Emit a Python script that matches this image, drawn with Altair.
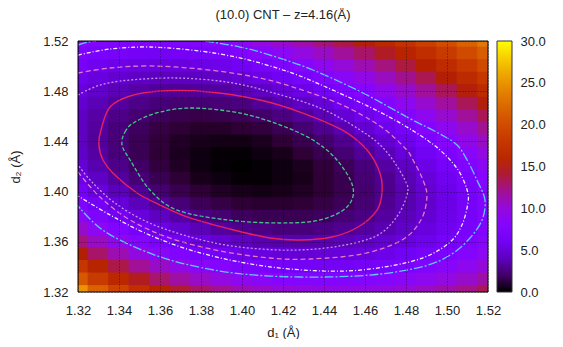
import math
import altair as alt
import pandas as pd

# ---------------- data ----------------
d1_values = [1.32, 1.33, 1.34, 1.35, 1.36, 1.37, 1.38, 1.39, 1.40, 1.41, 1.42,
             1.43, 1.44, 1.45, 1.46, 1.47, 1.48, 1.49, 1.50, 1.51, 1.52]
d2_values = [1.52, 1.51, 1.50, 1.49, 1.48, 1.47, 1.46, 1.45, 1.44, 1.43, 1.42,
             1.41, 1.40, 1.39, 1.38, 1.37, 1.36, 1.35, 1.34, 1.33, 1.32]

energy_rows = [
    [8.3, 7.9, 7.6, 7.5, 7.5, 7.7, 8.0, 8.4, 9.0, 9.8, 10.6, 11.5, 12.6, 13.7, 14.8, 16.1, 17.4, 18.8, 20.2, 21.7, 23.3],
    [7.3, 6.8, 6.5, 6.3, 6.2, 6.3, 6.6, 7.0, 7.5, 8.2, 9.0, 9.8, 10.8, 11.9, 13.0, 14.3, 15.6, 17.0, 18.4, 19.9, 21.4],
    [6.5, 5.9, 5.5, 5.2, 5.1, 5.1, 5.3, 5.6, 6.1, 6.7, 7.4, 8.2, 9.2, 10.2, 11.3, 12.5, 13.8, 15.2, 16.6, 18.1, 19.7],
    [5.7, 5.1, 4.6, 4.2, 4.0, 4.0, 4.1, 4.4, 4.8, 5.3, 6.0, 6.7, 7.6, 8.6, 9.7, 10.9, 12.2, 13.5, 14.9, 16.4, 18.0],
    [5.1, 4.4, 3.8, 3.4, 3.1, 3.0, 3.1, 3.2, 3.6, 4.1, 4.7, 5.4, 6.2, 7.2, 8.2, 9.4, 10.6, 11.9, 13.3, 14.8, 16.4],
    [4.6, 3.8, 3.2, 2.7, 2.4, 2.2, 2.2, 2.3, 2.5, 3.0, 3.5, 4.2, 4.9, 5.8, 6.9, 8.0, 9.2, 10.5, 11.8, 13.3, 14.8],
    [4.2, 3.4, 2.7, 2.2, 1.8, 1.5, 1.4, 1.5, 1.7, 2.0, 2.5, 3.1, 3.8, 4.7, 5.6, 6.7, 7.9, 9.1, 10.5, 11.9, 13.4],
    [4.1, 3.2, 2.4, 1.8, 1.3, 1.0, 0.8, 0.8, 1.0, 1.2, 1.6, 2.2, 2.9, 3.7, 4.6, 5.6, 6.7, 7.9, 9.2, 10.6, 12.1],
    [4.1, 3.1, 2.3, 1.6, 1.1, 0.7, 0.5, 0.4, 0.4, 0.6, 1.0, 1.5, 2.1, 2.8, 3.7, 4.6, 5.7, 6.9, 8.1, 9.5, 10.9],
    [4.3, 3.3, 2.4, 1.6, 1.0, 0.6, 0.3, 0.1, 0.1, 0.3, 0.5, 1.0, 1.5, 2.2, 3.0, 3.9, 4.9, 6.0, 7.2, 8.5, 9.8],
    [4.7, 3.6, 2.7, 1.9, 1.2, 0.7, 0.3, 0.1, 0.0, 0.1, 0.3, 0.6, 1.1, 1.7, 2.4, 3.3, 4.2, 5.3, 6.4, 7.6, 8.9],
    [5.4, 4.2, 3.2, 2.3, 1.6, 1.0, 0.5, 0.3, 0.1, 0.1, 0.3, 0.5, 1.0, 1.5, 2.2, 2.9, 3.8, 4.8, 5.8, 7.0, 8.2],
    [6.3, 5.0, 3.9, 3.0, 2.2, 1.5, 1.0, 0.7, 0.5, 0.4, 0.5, 0.7, 1.0, 1.5, 2.1, 2.8, 3.6, 4.5, 5.5, 6.6, 7.8],
    [7.4, 6.1, 4.9, 3.9, 3.0, 2.3, 1.7, 1.3, 1.0, 0.9, 0.9, 1.0, 1.3, 1.7, 2.2, 2.9, 3.6, 4.4, 5.4, 6.4, 7.5],
    [8.8, 7.4, 6.1, 5.0, 4.1, 3.3, 2.6, 2.2, 1.8, 1.6, 1.6, 1.6, 1.8, 2.2, 2.6, 3.2, 3.9, 4.6, 5.5, 6.4, 7.5],
    [10.5, 9.0, 7.6, 6.4, 5.4, 4.5, 3.8, 3.2, 2.8, 2.6, 2.4, 2.4, 2.6, 2.9, 3.2, 3.7, 4.3, 5.0, 5.8, 6.7, 7.7],
    [12.5, 10.8, 9.3, 8.0, 6.9, 6.0, 5.2, 4.6, 4.1, 3.7, 3.5, 3.5, 3.6, 3.8, 4.1, 4.5, 5.0, 5.7, 6.4, 7.2, 8.2],
    [14.9, 13.0, 11.3, 9.9, 8.7, 7.7, 6.8, 6.1, 5.5, 5.1, 4.9, 4.7, 4.8, 4.9, 5.1, 5.5, 6.0, 6.5, 7.2, 8.0, 9.0],
    [17.8, 15.5, 13.6, 12.0, 10.7, 9.6, 8.6, 7.9, 7.2, 6.8, 6.4, 6.2, 6.2, 6.2, 6.4, 6.7, 7.1, 7.7, 8.4, 9.2, 10.1],
    [21.1, 18.4, 16.2, 14.4, 12.9, 11.7, 10.7, 9.8, 9.2, 8.6, 8.2, 8.0, 7.8, 7.8, 7.9, 8.2, 8.6, 9.1, 9.8, 10.6, 11.6],
    [25.0, 21.7, 19.2, 17.1, 15.4, 14.1, 13.0, 12.1, 11.3, 10.7, 10.2, 9.9, 9.7, 9.6, 9.7, 9.9, 10.3, 10.8, 11.5, 12.3, 13.4],
]

# contour lines (d1, d2)
green_d1 = [1.3415, 1.3429, 1.3478, 1.3600, 1.3761, 1.3990, 1.4185, 1.4346, 1.4463, 1.4541, 1.4512, 1.4380, 1.4185, 1.3927, 1.3683, 1.3551, 1.3454]
green_d2 = [1.4371, 1.4475, 1.4555, 1.4634, 1.4666, 1.4626, 1.4531, 1.4411, 1.4252, 1.4037, 1.3877, 1.3774, 1.3750, 1.3774, 1.3853, 1.4013, 1.4252]

red_d1 = [1.3302, 1.3312, 1.3356, 1.3454, 1.3600, 1.3844, 1.4088, 1.4283, 1.4488, 1.4610, 1.4673, 1.4683, 1.4659, 1.4566, 1.4439, 1.4283, 1.4137, 1.3941, 1.3746, 1.3600, 1.3488, 1.3380, 1.3322]
red_d2 = [1.4371, 1.4491, 1.4674, 1.4762, 1.4802, 1.4794, 1.4730, 1.4634, 1.4491, 1.4331, 1.4148, 1.3997, 1.3853, 1.3718, 1.3638, 1.3614, 1.3630, 1.3702, 1.3790, 1.3893, 1.3989, 1.4132, 1.4252]

lav_d1 = [1.3200, 1.3307, 1.3454, 1.3683, 1.3927, 1.4137, 1.4380, 1.4576, 1.4698, 1.4795, 1.4805, 1.4751, 1.4654, 1.4478, 1.4283, 1.4088, 1.3893, 1.3698, 1.3527, 1.3380, 1.3268, 1.3200]
lav_d2 = [1.4770, 1.4849, 1.4889, 1.4905, 1.4873, 1.4794, 1.4666, 1.4491, 1.4331, 1.4092, 1.3973, 1.3790, 1.3646, 1.3567, 1.3535, 1.3543, 1.3582, 1.3662, 1.3766, 1.3909, 1.4076, 1.4212]

pink_d1 = [1.3200, 1.3356, 1.3551, 1.3795, 1.4039, 1.4234, 1.4478, 1.4673, 1.4795, 1.4834, 1.4883, 1.4902, 1.4873, 1.4780, 1.4585, 1.4332, 1.4137, 1.3893, 1.3649, 1.3454, 1.3307, 1.3200]
pink_d2 = [1.4945, 1.4985, 1.5001, 1.4977, 1.4921, 1.4841, 1.4698, 1.4523, 1.4347, 1.4252, 1.4092, 1.3957, 1.3774, 1.3614, 1.3503, 1.3463, 1.3471, 1.3527, 1.3630, 1.3774, 1.3957, 1.4156]

white_d1 = [1.3200, 1.3356, 1.3551, 1.3795, 1.3990, 1.4137, 1.4283, 1.4463, 1.4673, 1.4844, 1.4966, 1.5054, 1.5098, 1.5102, 1.5073, 1.5015, 1.4893, 1.4722, 1.4502, 1.4234, 1.3990, 1.3746, 1.3527, 1.3356, 1.3200]
white_d2 = [1.5088, 1.5136, 1.5152, 1.5120, 1.5065, 1.5001, 1.4921, 1.4794, 1.4634, 1.4475, 1.4331, 1.4172, 1.4013, 1.3909, 1.3734, 1.3598, 1.3479, 1.3407, 1.3367, 1.3383, 1.3439, 1.3535, 1.3670, 1.3814, 1.3965]

cyan_a_d1 = [1.3200, 1.3249, 1.3288]
cyan_a_d2 = [1.5168, 1.5192, 1.5200]
cyan_b_d1 = [1.3820, 1.3990, 1.4137, 1.4346, 1.4590, 1.4805, 1.4966, 1.5049, 1.5098, 1.5146, 1.5185, 1.5171, 1.5112, 1.5024, 1.4893, 1.4673, 1.4429, 1.4137, 1.3893, 1.3649, 1.3454, 1.3307, 1.3200]
cyan_b_d2 = [1.5200, 1.5152, 1.5088, 1.4969, 1.4786, 1.4594, 1.4459, 1.4371, 1.4252, 1.4092, 1.3933, 1.3774, 1.3630, 1.3503, 1.3407, 1.3343, 1.3320, 1.3327, 1.3367, 1.3455, 1.3575, 1.3710, 1.3885]

tick_values = [1.32, 1.34, 1.36, 1.38, 1.40, 1.42, 1.44, 1.46, 1.48, 1.50, 1.52]
cbar_values = [0, 5, 10, 15, 20, 25, 30]

# ---------------- build tables ----------------
rows = []
for i, d2 in enumerate(d2_values):
    for j, d1 in enumerate(d1_values):
        rows.append({"d1": d1, "d2": d2, "e": energy_rows[i][j]})
heat_df = pd.DataFrame(rows)


def contour_df(segments):
    recs = []
    for s, (xs, ys) in enumerate(segments):
        for k, (a, b) in enumerate(zip(xs, ys)):
            recs.append({"d1": a, "d2": b, "seg": s, "ord": k})
    return pd.DataFrame(recs)


# gnuplot default pm3d palette (rgbformulae 7,5,15)
def pal(t):
    r = math.sqrt(t)
    g = t ** 3
    b = max(0.0, math.sin(2 * math.pi * t))
    return "#%02x%02x%02x" % (round(255 * r), round(255 * g), round(255 * b))


n_stops = 31
stop_dom = [30.0 * k / (n_stops - 1) for k in range(n_stops)]
stop_rng = [pal(k / (n_stops - 1)) for k in range(n_stops)]

FONT = "Liberation Sans"
W, H = 410, 251

xscale = alt.Scale(domain=[1.32, 1.52], nice=False, zero=False)
yscale = alt.Scale(domain=[1.32, 1.52], nice=False, zero=False)
cscale = alt.Scale(type="linear", domain=stop_dom, range=stop_rng, clamp=True, interpolate="rgb")

grid_kw = dict(grid=True, gridColor="#000000", gridDash=[1, 2], gridOpacity=0.55, gridWidth=1,
               ticks=False, domain=False, labelFont=FONT, titleFont=FONT, labelFontSize=13,
               titleFontSize=13, labelColor="#222222", titleColor="#222222",
               titleFontWeight="normal", format=".2f", values=tick_values, zindex=1,
               labelFlush=False, labelOverlap=False)

heat = alt.Chart(heat_df).transform_calculate(
    x0="datum.d1 - 0.0053", x1="datum.d1 + 0.0053",
    y0="datum.d2 - 0.0055", y1="datum.d2 + 0.0055",
).mark_rect(clip=True).encode(
    x=alt.X("x0:Q", scale=xscale,
            axis=alt.Axis(title="d\u2081 (\u00c5)", labelPadding=12, titlePadding=9, **grid_kw)),
    x2="x1:Q",
    y=alt.Y("y0:Q", scale=yscale,
            axis=alt.Axis(title="d\u2082 (\u00c5)", labelPadding=10, titlePadding=20, **grid_kw)),
    y2="y1:Q",
    color=alt.Color("e:Q", scale=cscale, legend=alt.Legend(
        type="gradient", orient="none", legendX=W + 9, legendY=0, direction="vertical",
        gradientLength=H, gradientThickness=15, values=cbar_values, format=".1f",
        title=None, labelOpacity=0, labelFontSize=1,
        gradientStrokeColor="#333333", gradientStrokeWidth=1)),
)


def contour_layer(segments, color, dash, closed=False, width=1.3):
    kw = dict(clip=True, color=color, strokeWidth=width,
              interpolate="cardinal-closed" if closed else "cardinal")
    if dash:
        kw["strokeDash"] = dash
    return alt.Chart(contour_df(segments)).mark_line(**kw).encode(
        x=alt.X("d1:Q", scale=xscale),
        y=alt.Y("d2:Q", scale=yscale),
        detail="seg:N",
        order="ord:Q",
    )


layers = [
    heat,
    contour_layer([(cyan_a_d1, cyan_a_d2), (cyan_b_d1, cyan_b_d2)], "#5ec8ff", [9, 2, 2, 2]),
    contour_layer([(white_d1, white_d2)], "#f4f0ff", [4, 2, 1, 2]),
    contour_layer([(pink_d1, pink_d2)], "#e878cc", [5, 3]),
    contour_layer([(lav_d1, lav_d2)], "#c890ee", [2, 2]),
    contour_layer([(red_d1, red_d2)], "#e8205e", None, closed=True, width=1.4),
    contour_layer([(green_d1, green_d2)], "#48c48c", [4, 2], closed=True),
]

border = alt.Chart(pd.DataFrame({"k": [0]})).mark_rect(
    fillOpacity=0, stroke="#000000", strokeWidth=1
).encode(x=alt.value(0), x2=alt.value(W), y=alt.value(0), y2=alt.value(H))
layers.append(border)

base = alt.layer(*layers)

# colour-bar tick labels as a right-hand axis on the energy scale
cbar_axis = alt.Chart(pd.DataFrame({"v": cbar_values})).mark_point(opacity=0).encode(
    x=alt.value(0),
    y=alt.Y("v:Q", scale=alt.Scale(domain=[0, 30], nice=False, zero=False),
            axis=alt.Axis(orient="right", offset=24, values=cbar_values, format=".1f",
                          grid=False, ticks=False, domain=False, title=None,
                          labelFont=FONT, labelFontSize=13, labelColor="#222222",
                          labelPadding=8, labelFlush=False, labelOverlap=False)),
)

chart = alt.layer(base, cbar_axis).resolve_scale(y="independent").properties(
    width=W, height=H,
    title=alt.TitleParams("(10.0) CNT \u2013 z=4.16(\u00c5)", font=FONT, fontSize=13,
                          fontWeight="normal", color="#222222", offset=13, anchor="middle"),
    padding={"left": 70, "top": 33, "right": 67, "bottom": 47},
    autosize=alt.AutoSizeParams(type="none"),
).configure_view(stroke=None)

chart.save("out.html", embed_options={"renderer": "svg", "actions": False})
